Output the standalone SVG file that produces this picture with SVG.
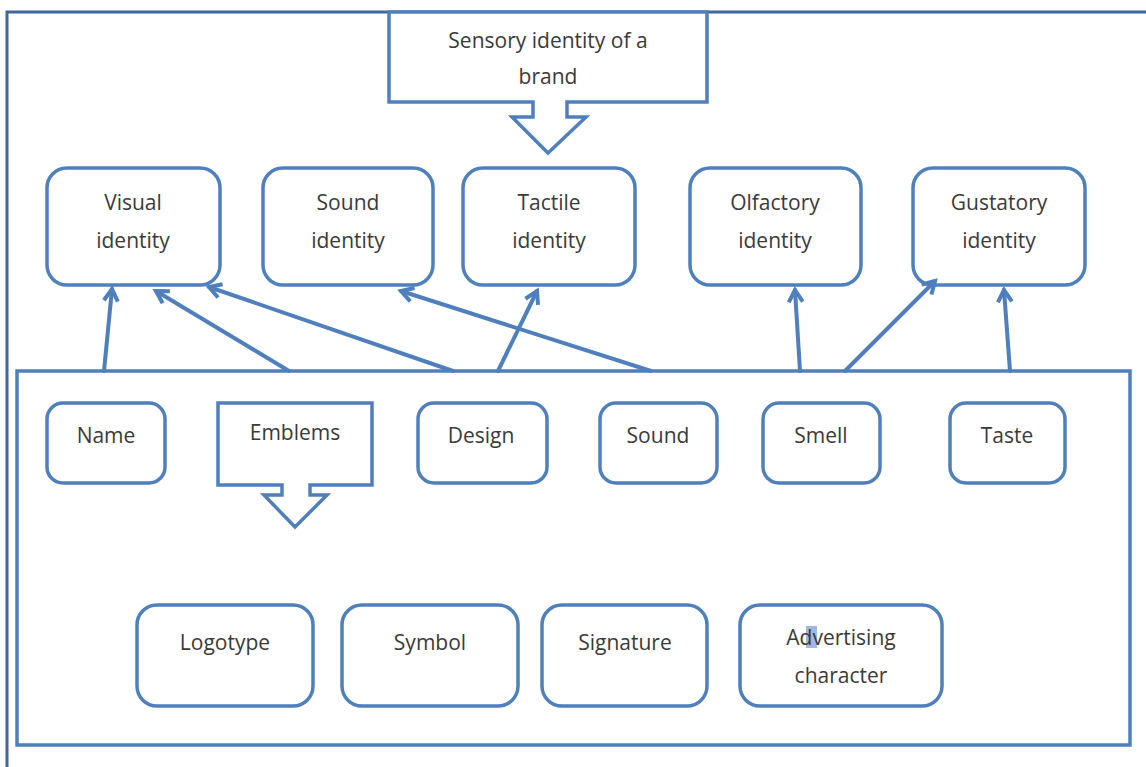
<svg xmlns="http://www.w3.org/2000/svg" width="1146" height="767" viewBox="0 0 1146 767">
  <style>
    .frame { fill: none; stroke: #41679c; stroke-width: 3; }
    .box { fill: #ffffff; stroke: #4f7fbd; stroke-width: 3.5; }
    .panel { fill: none; stroke: #4f7fbd; stroke-width: 3.5; }
    .callout { fill: #ffffff; stroke: #4f7fbd; stroke-width: 3.5; stroke-linejoin: miter; }
    .link { fill: none; stroke: #4f7fbd; stroke-width: 4; stroke-linecap: round; marker-end: url(#head); }
    text { font-family: "Open Sans", "Liberation Sans", sans-serif; font-size: 21px; fill: #3a3a3a; text-anchor: middle; }
  </style>
  <defs>
    <marker id="head" viewBox="0 0 20 20" refX="15" refY="10" markerWidth="20" markerHeight="20" markerUnits="userSpaceOnUse" orient="auto">
      <path d="M3,3 L15,10 L3,17" fill="none" stroke="#4f7fbd" stroke-width="4" stroke-linejoin="miter"/>
    </marker>
  </defs>

  <rect width="1146" height="767" fill="#ffffff"/>

  <!-- page frame -->
  <rect class="frame" x="7" y="12" width="1170" height="780"/>

  <!-- header callout with down arrow -->
  <g id="sensory-identity">
    <path class="callout" d="M389,12 H707 V102 H567 V117 H586 L548,153 L512,117 H533 V102 H389 Z"/>
    <text x="548" y="48">Sensory identity of a</text>
    <text x="548" y="84">brand</text>
  </g>

  <!-- identity nodes -->
  <g id="visual-identity">
    <rect class="box" x="47" y="168" width="173" height="117" rx="20"/>
    <text x="133" y="210">Visual</text>
    <text x="133" y="248">identity</text>
  </g>
  <g id="sound-identity">
    <rect class="box" x="263" y="168" width="170" height="117" rx="20"/>
    <text x="348" y="210">Sound</text>
    <text x="348" y="248">identity</text>
  </g>
  <g id="tactile-identity">
    <rect class="box" x="463" y="168" width="172" height="117" rx="20"/>
    <text x="549" y="210">Tactile</text>
    <text x="549" y="248">identity</text>
  </g>
  <g id="olfactory-identity">
    <rect class="box" x="690" y="168" width="171" height="117" rx="20"/>
    <text x="775" y="210">Olfactory</text>
    <text x="775" y="248">identity</text>
  </g>
  <g id="gustatory-identity">
    <rect class="box" x="913" y="168" width="172" height="117" rx="20"/>
    <text x="999" y="210">Gustatory</text>
    <text x="999" y="248">identity</text>
  </g>

  <!-- container for brand elements -->
  <g id="elements-panel">
    <rect class="panel" x="17" y="371" width="1113" height="374"/>
  </g>

  <g id="name">
    <rect class="box" x="47" y="403" width="118" height="80" rx="16"/>
    <text x="106" y="443">Name</text>
  </g>
  <g id="emblems">
    <path class="callout" d="M218,403 H372 V485 H310 V495 H327 L295,527 L264,495 H282 V485 H218 Z"/>
    <text x="295" y="440">Emblems</text>
  </g>
  <g id="design">
    <rect class="box" x="418" y="403" width="129" height="80" rx="16"/>
    <text x="481" y="443">Design</text>
  </g>
  <g id="sound">
    <rect class="box" x="600" y="403" width="117" height="80" rx="16"/>
    <text x="658" y="443">Sound</text>
  </g>
  <g id="smell">
    <rect class="box" x="763" y="403" width="117" height="80" rx="16"/>
    <text x="821" y="443">Smell</text>
  </g>
  <g id="taste">
    <rect class="box" x="950" y="403" width="115" height="80" rx="16"/>
    <text x="1007" y="443">Taste</text>
  </g>

  <!-- emblem kinds -->
  <g id="logotype">
    <rect class="box" x="137" y="605" width="176" height="101" rx="20"/>
    <text x="225" y="650">Logotype</text>
  </g>
  <g id="symbol">
    <rect class="box" x="342" y="605" width="176" height="101" rx="20"/>
    <text x="430" y="650">Symbol</text>
  </g>
  <g id="signature">
    <rect class="box" x="542" y="605" width="165" height="101" rx="20"/>
    <text x="625" y="650">Signature</text>
  </g>
  <g id="advertising-character">
    <rect class="box" x="740" y="605" width="202" height="101" rx="20"/>
    <rect x="806" y="626" width="11" height="22" fill="#9dbbe0"/>
    <text x="841" y="645">Advertising</text>
    <text x="841" y="683">character</text>
  </g>

  <!-- connectors from the panel to the identity nodes -->
  <g id="connectors">
    <path class="link" d="M104,371 L112,289"/>
    <path class="link" d="M289,371 L156,291"/>
    <path class="link" d="M453,371 L209,287"/>
    <path class="link" d="M498,371 L537,291"/>
    <path class="link" d="M651,371 L401,291"/>
    <path class="link" d="M800,371 L795,290"/>
    <path class="link" d="M845,371 L935,281"/>
    <path class="link" d="M1010,371 L1004,290"/>
  </g>
</svg>
